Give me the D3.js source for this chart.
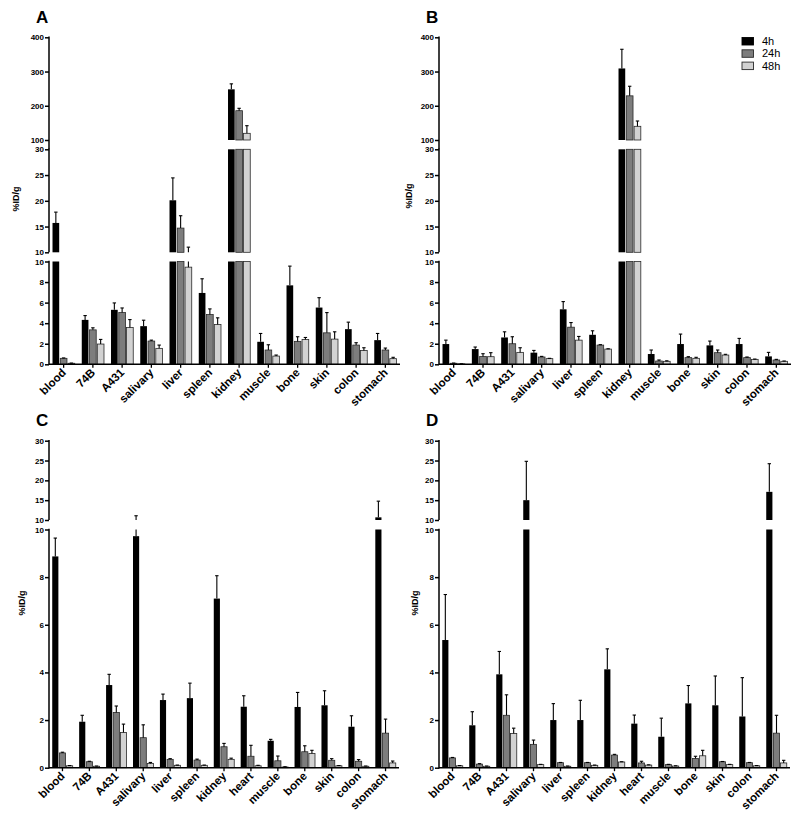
<!DOCTYPE html>
<html>
<head>
<meta charset="utf-8">
<script src="https://cdn.jsdelivr.net/npm/d3@7/dist/d3.min.js"></script>
<style>
  html, body { margin: 0; padding: 0; background: #fff; }
  svg { display: block; }
  text { font-family: "Liberation Sans", Arial, sans-serif; }
</style>
</head>
<body>
<svg id="chart" width="800" height="819"></svg>
<script>
// ---------------- DATA ----------------
const seriesNames = ["4h", "24h", "48h"];
const categoriesAB = ["blood", "74B", "A431", "salivary", "liver", "spleen", "kidney", "muscle", "bone", "skin", "colon", "stomach"];
const categoriesCD = ["blood", "74B", "A431", "salivary", "liver", "spleen", "kidney", "heart", "muscle", "bone", "skin", "colon", "stomach"];

// Panel A (mean, SD)
const A_4h   = [15.7, 4.32, 5.3, 3.71, 20.1, 6.94, 248, 2.19, 7.68, 5.52, 3.42, 2.35];
const A_4h_sd  = [2.1, 0.42, 0.67, 0.58, 4.35, 1.38, 16, 0.81, 1.87, 0.96, 0.68, 0.65];
const A_24h  = [0.58, 3.35, 5.03, 2.26, 14.7, 4.84, 185.6, 1.39, 2.23, 3.06, 1.87, 1.39];
const A_24h_sd = [0.04, 0.2, 0.45, 0.09, 2.4, 0.55, 7, 0.51, 0.45, 1.97, 0.23, 0.19];
const A_48h  = [0.1, 1.97, 3.58, 1.55, 9.45, 3.87, 119.5, 0.8, 2.42, 2.45, 1.35, 0.55];
const A_48h_sd = [0.02, 0.45, 0.77, 0.32, 1.55, 0.65, 22.3, 0.1, 0.19, 0.71, 0.26, 0.13];

// Panel B
const B_4h   = [1.97, 1.48, 2.61, 1.13, 5.35, 2.87, 309, 1.0, 1.97, 1.84, 1.97, 0.77];
const B_4h_sd  = [0.38, 0.2, 0.55, 0.22, 0.75, 0.39, 56, 0.39, 0.97, 0.42, 0.55, 0.39];
const B_24h  = [0.1, 0.77, 2.0, 0.71, 3.61, 1.87, 229, 0.32, 0.65, 1.13, 0.65, 0.42];
const B_24h_sd = [0.02, 0.26, 0.68, 0.06, 0.45, 0.04, 28, 0.1, 0.09, 0.26, 0.06, 0.06];
const B_48h  = [0.04, 0.74, 1.16, 0.55, 2.35, 1.48, 140, 0.29, 0.58, 0.9, 0.48, 0.29];
const B_48h_sd = [0.01, 0.39, 0.45, 0.03, 0.36, 0.03, 15.5, 0.05, 0.1, 0.07, 0.03, 0.03];

// Panel C
const C_4h   = [8.87, 1.93, 3.47, 9.72, 2.84, 2.92, 7.1, 2.56, 1.13, 2.55, 2.62, 1.72, 10.67];
const C_4h_sd  = [0.77, 0.27, 0.45, 1.35, 0.25, 0.63, 0.96, 0.46, 0.06, 0.61, 0.61, 0.46, 4.08];
const C_24h  = [0.62, 0.25, 2.32, 1.26, 0.35, 0.32, 0.88, 0.48, 0.29, 0.67, 0.31, 0.27, 1.45];
const C_24h_sd = [0.03, 0.02, 0.27, 0.54, 0.03, 0.04, 0.14, 0.46, 0.2, 0.25, 0.07, 0.07, 0.59];
const C_48h  = [0.08, 0.06, 1.48, 0.18, 0.1, 0.1, 0.35, 0.08, 0.03, 0.6, 0.08, 0.06, 0.2];
const C_48h_sd = [0.01, 0.01, 0.35, 0.04, 0.01, 0.01, 0.05, 0.02, 0.01, 0.13, 0.01, 0.01, 0.08];

// Panel D
const D_4h   = [5.36, 1.78, 3.92, 15.0, 2.0, 2.0, 4.13, 1.85, 1.3, 2.7, 2.62, 2.15, 17.1];
const D_4h_sd  = [1.91, 0.57, 0.96, 9.8, 0.69, 0.83, 0.86, 0.36, 0.78, 0.75, 1.23, 1.63, 7.1];
const D_24h  = [0.41, 0.15, 2.2, 0.98, 0.21, 0.21, 0.53, 0.2, 0.13, 0.39, 0.25, 0.21, 1.45];
const D_24h_sd = [0.02, 0.02, 0.86, 0.18, 0.01, 0.01, 0.03, 0.07, 0.01, 0.09, 0.01, 0.01, 0.75];
const D_48h  = [0.08, 0.06, 1.44, 0.13, 0.06, 0.1, 0.24, 0.11, 0.07, 0.5, 0.13, 0.08, 0.2];
const D_48h_sd = [0.01, 0.01, 0.22, 0.01, 0.01, 0.01, 0.01, 0.01, 0.01, 0.23, 0.01, 0.01, 0.11];

// Axis segment tick labels
const ticksLow = [0, 2, 4, 6, 8, 10];
const ticksMid = [10, 15, 20, 25, 30];
const ticksHigh = [100, 200, 300, 400];

// ---------------- STYLE / LAYOUT ----------------
const fills = ["#000000", "#7d7d7d", "#d2d2d2"];
const strokes = ["#000000", "#2a2a2a", "#2a2a2a"];

const segsAB = [
  { lo: 0, hi: 10, yb: 364.3, yt: 261.5, ticks: ticksLow },
  { lo: 10, hi: 30, yb: 252.3, yt: 149.3, ticks: ticksMid },
  { lo: 100, hi: 400, yb: 140, yt: 37.3, ticks: ticksHigh, joinBelow: true }
];
const segsCD = [
  { lo: 0, hi: 10, yb: 767.7, yt: 529.5, ticks: ticksLow },
  { lo: 10, hi: 30, yb: 520, yt: 440.7, ticks: ticksMid }
];

const panels = [
  { letter: "A", lx: 36, ly: 23, cats: categoriesAB, x0: 49, x1: 400, segs: segsAB,
    vals: [A_4h, A_24h, A_48h], sds: [A_4h_sd, A_24h_sd, A_48h_sd], ylabX: 16, ylabY: 199 },
  { letter: "B", lx: 426, ly: 23, cats: categoriesAB, x0: 439, x1: 791, segs: segsAB,
    vals: [B_4h, B_24h, B_48h], sds: [B_4h_sd, B_24h_sd, B_48h_sd], ylabX: 409, ylabY: 196, legend: true },
  { letter: "C", lx: 36, ly: 426, cats: categoriesCD, x0: 49, x1: 399, segs: segsCD,
    vals: [C_4h, C_24h, C_48h], sds: [C_4h_sd, C_24h_sd, C_48h_sd], ylabX: 22, ylabY: 603 },
  { letter: "D", lx: 426, ly: 426, cats: categoriesCD, x0: 439, x1: 790, segs: segsCD,
    vals: [D_4h, D_24h, D_48h], sds: [D_4h_sd, D_24h_sd, D_48h_sd], ylabX: 415, ylabY: 603 }
];

const svg = d3.select("#chart");

panels.forEach(p => {
  const g = svg.append("g");

  g.append("text").attr("x", p.lx).attr("y", p.ly)
    .attr("font-size", 17).attr("font-weight", "bold").text(p.letter);

  const x = d3.scaleBand().domain(p.cats).range([p.x0, p.x1]).paddingInner(0.24).paddingOuter(0.12);
  const xs = d3.scaleBand().domain(seriesNames).range([0, x.bandwidth()]).paddingInner(0.14);

  const segScales = p.segs.map(s => ({ ...s, y: d3.scaleLinear().domain([s.lo, s.hi]).range([s.yb, s.yt]) }));

  // bars, drawn piecewise in each axis segment
  segScales.forEach(s => {
    seriesNames.forEach((sn, si) => {
      p.cats.forEach((c, ci) => {
        const v = p.vals[si][ci];
        if (v <= s.lo) return;
        const top = Math.min(v, s.hi);
        const yTop = s.y(top), yBot = s.y(s.lo);
        g.append("rect")
          .attr("x", x(c) + xs(sn))
          .attr("y", yTop)
          .attr("width", xs.bandwidth())
          .attr("height", Math.max(0.6, yBot - yTop))
          .attr("fill", fills[si])
          .attr("stroke", strokes[si])
          .attr("stroke-width", si === 0 ? 0 : 0.8);
      });
    });
  });

  // error bars (upper only)
  segScales.forEach(s => {
    seriesNames.forEach((sn, si) => {
      p.cats.forEach((c, ci) => {
        const v = p.vals[si][ci];
        const e = v + p.sds[si][ci];
        const a = Math.max(v, s.lo), b = Math.min(e, s.hi);
        if (b <= a) return;
        const cx = x(c) + xs(sn) + xs.bandwidth() / 2;
        g.append("line").attr("x1", cx).attr("x2", cx)
          .attr("y1", s.y(a)).attr("y2", s.y(b))
          .attr("stroke", "#000").attr("stroke-width", 1.1);
        if (e <= s.hi && e >= s.lo) {
          g.append("line").attr("x1", cx - 1.7).attr("x2", cx + 1.7)
            .attr("y1", s.y(e)).attr("y2", s.y(e))
            .attr("stroke", "#000").attr("stroke-width", 1.1);
        }
      });
    });
  });

  // y axis segments
  segScales.forEach((s, i) => {
    const ax = g.append("g").attr("transform", `translate(${p.x0},0)`)
      .call(d3.axisLeft(s.y).tickValues(s.ticks).tickSize(4).tickPadding(1).tickFormat(d3.format("d")));
    ax.select(".domain").remove();
    ax.selectAll(".tick line").attr("stroke-width", 1.5);
    ax.selectAll(".tick text").attr("font-size", 8).attr("font-weight", "bold")
      .attr("font-family", "Liberation Sans, Arial, sans-serif");
    const yb = (s.joinBelow) ? segScales[i - 1].yt : s.yb;
    g.append("line").attr("x1", p.x0).attr("x2", p.x0).attr("y1", yb + (i === 0 ? 0.75 : 0)).attr("y2", s.yt - 0.75)
      .attr("stroke", "#000").attr("stroke-width", 1.5);
  });

  // x axis
  const y0 = segScales[0].yb;
  g.append("line").attr("x1", p.x0).attr("x2", p.x1).attr("y1", y0).attr("y2", y0)
    .attr("stroke", "#000").attr("stroke-width", 1.5);
  p.cats.forEach(c => {
    const cx = x(c) + x.bandwidth() / 2;
    g.append("line").attr("x1", cx).attr("x2", cx).attr("y1", y0).attr("y2", y0 + 3.5)
      .attr("stroke", "#000").attr("stroke-width", 1.3);
    g.append("text")
      .attr("transform", `translate(${cx + 3},${y0 + 9}) rotate(-45)`)
      .attr("text-anchor", "end")
      .attr("font-size", 11.5).attr("font-weight", "bold")
      .text(c);
  });

  // y label
  g.append("text")
    .attr("transform", `translate(${p.ylabX + 3},${p.ylabY}) rotate(-90)`)
    .attr("text-anchor", "middle")
    .attr("font-size", 9).attr("font-weight", "bold")
    .text("%ID/g");

  // legend
  if (p.legend) {
    seriesNames.forEach((sn, si) => {
      const ly = 37.5 + si * 12.3;
      g.append("rect").attr("x", 742).attr("y", ly).attr("width", 11.5).attr("height", 7.5)
        .attr("fill", fills[si]).attr("stroke", strokes[si]).attr("stroke-width", 0.9);
      g.append("text").attr("x", 762).attr("y", ly + 7.5).attr("font-size", 11).text(sn);
    });
  }
});
</script>
</body>
</html>
